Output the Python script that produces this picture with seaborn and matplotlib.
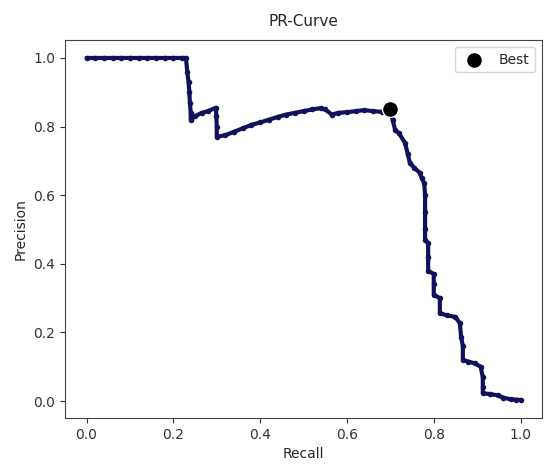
import numpy as np
import pandas as pd
import matplotlib
matplotlib.use("Agg")
import matplotlib.pyplot as plt
import seaborn as sns

# -----------------------------
# DATA
# -----------------------------
recall = [
    0.0, 0.02, 0.04, 0.06, 0.08, 0.10, 0.12, 0.14, 0.16, 0.18, 0.20, 0.22, 0.229,
    0.232, 0.235, 0.237, 0.238, 0.24, 0.24, 0.25, 0.265, 0.28, 0.298, 0.299, 0.30, 0.30,
    0.32, 0.34, 0.36, 0.38, 0.40, 0.42, 0.44, 0.46, 0.48, 0.50, 0.52, 0.54, 0.55,
    0.565, 0.58, 0.60, 0.62, 0.64, 0.66, 0.68, 0.69, 0.70,
    0.705, 0.711, 0.72, 0.734, 0.74, 0.745, 0.755, 0.768, 0.772, 0.778,
    0.78, 0.78, 0.78, 0.78, 0.787, 0.787, 0.787, 0.80, 0.80, 0.80, 0.814, 0.814,
    0.83, 0.85, 0.86, 0.863, 0.867, 0.867, 0.88, 0.894, 0.908, 0.913, 0.913, 0.913,
    0.93, 0.947, 0.96, 0.977, 0.99, 1.0,
]
precision = [
    1.0, 1.0, 1.0, 1.0, 1.0, 1.0, 1.0, 1.0, 1.0, 1.0, 1.0, 1.0, 1.0,
    0.96, 0.93, 0.90, 0.87, 0.84, 0.82, 0.83, 0.84, 0.845, 0.855, 0.83, 0.80, 0.77,
    0.775, 0.785, 0.795, 0.805, 0.812, 0.82, 0.828, 0.835, 0.84, 0.845, 0.85, 0.854, 0.85,
    0.835, 0.84, 0.842, 0.845, 0.848, 0.845, 0.843, 0.85, 0.851,
    0.82, 0.79, 0.78, 0.752, 0.72, 0.694, 0.68, 0.665, 0.65, 0.635,
    0.60, 0.55, 0.50, 0.47, 0.46, 0.42, 0.38, 0.37, 0.34, 0.31, 0.30, 0.256,
    0.25, 0.245, 0.227, 0.187, 0.16, 0.12, 0.115, 0.11, 0.10, 0.07, 0.04, 0.023,
    0.02, 0.017, 0.01, 0.005, 0.004, 0.003,
]
best_recall = [0.70]
best_precision = [0.851]

df = pd.DataFrame({"Recall": recall, "Precision": precision})

# -----------------------------
# PLOT
# -----------------------------
sns.set_style("ticks")
plt.rcParams["font.family"] = ["DejaVu Sans"]

fig = plt.figure(figsize=(5.45, 4.72), dpi=100)
ax = fig.add_axes([0.119, 0.114, 0.876, 0.801])

sns.lineplot(
    data=df,
    x="Recall",
    y="Precision",
    sort=False,
    estimator=None,
    color="#12125c",
    linewidth=3,
    marker=".",
    markersize=8,
    markeredgewidth=0,
    ax=ax
)

sns.scatterplot(
    x=best_recall,
    y=best_precision,
    color="black",
    s=130,
    label="Best",
    zorder=5,
    ax=ax
)

ax.set_xlim(-0.05, 1.05)
ax.set_ylim(-0.05, 1.052)
ax.set_xticks([0.0, 0.2, 0.4, 0.6, 0.8, 1.0])
ax.set_yticks([0.0, 0.2, 0.4, 0.6, 0.8, 1.0])
ax.tick_params(labelsize=10, colors="#333333")
for s in ax.spines.values():
    s.set_color("#444444")

ax.set_title("PR-Curve", fontsize=11, pad=10)
ax.set_xlabel("Recall", fontsize=10)
ax.set_ylabel("Precision", fontsize=10)
ax.legend(loc="upper right", fontsize=10)

fig.savefig("out.png", dpi=100)
